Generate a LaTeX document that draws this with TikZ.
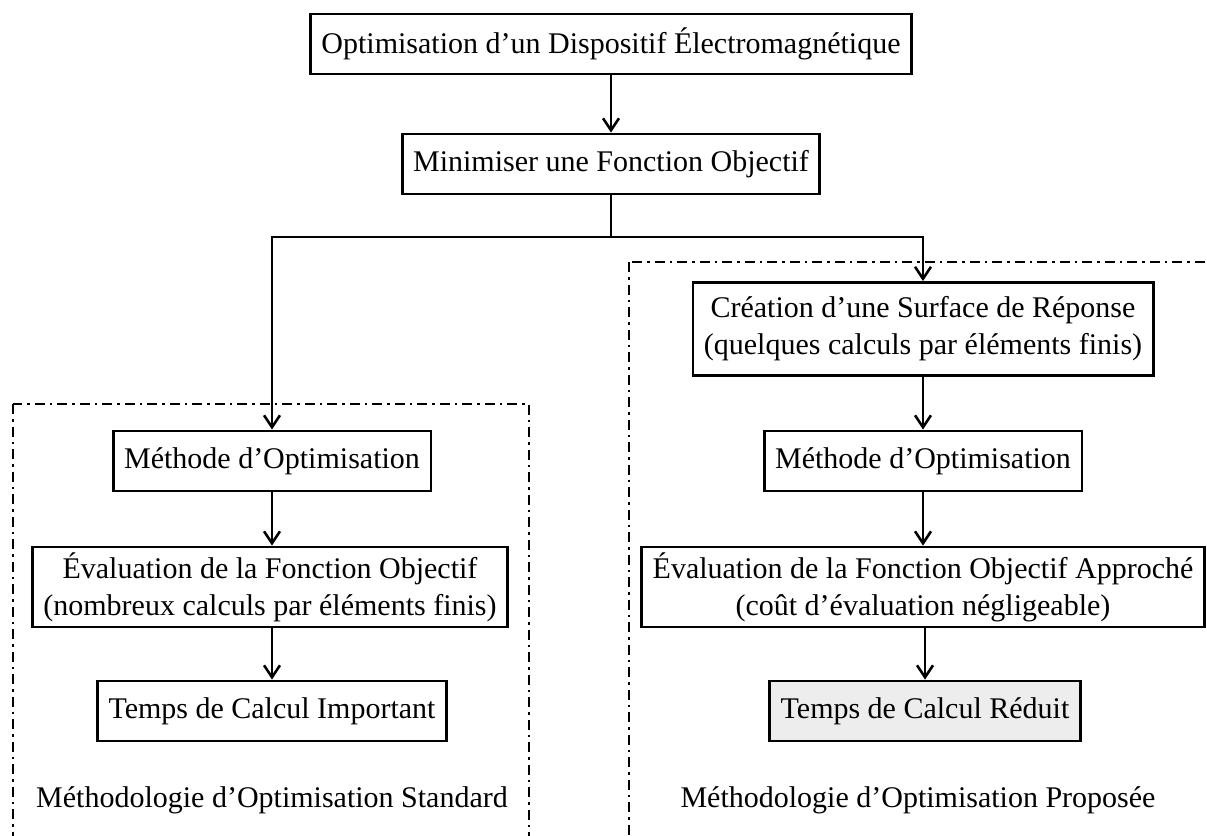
\documentclass[tikz,border=0pt]{standalone}
\usepackage{fontspec}
\setmainfont{Liberation Serif}
\usetikzlibrary{arrows.meta}

\tikzset{
  stepbox/.style={draw, line width=2.8pt, inner xsep=11pt, inner ysep=0pt,
    minimum height=60pt, align=center, font=\fontsize{30}{37}\selectfont},
  tallbox/.style={stepbox, minimum height=80pt},
  groupframe/.style={line width=2pt, dash pattern=on 10pt off 5pt on 2.5pt off 5pt},
  flow/.style={line width=2.6pt, -{Straight Barb[length=12pt,width=16pt,line width=2.6pt]}},
  grouplabel/.style={font=\fontsize{30}{37}\selectfont},
}

\begin{document}
\begin{tikzpicture}[x=1pt, y=-1pt]
  \useasboundingbox (0,0) rectangle (1207,835);
  \clip (0,0) rectangle (1207,835);

  % frames around the two methodologies
  \draw[groupframe] (13,404) rectangle (529,860);
  \draw[groupframe] (629,262) rectangle (1230,860);

  % common part
  \node[stepbox] (dev) at (611,44) {Optimisation d’un Dispositif Électromagnétique};
  \node[stepbox] (obj) at (611,164) {Minimiser une Fonction Objectif};
  \coordinate (split) at (611,237);

  % standard methodology
  \node[stepbox] (lmeth) at (272,461) {Méthode d’Optimisation};
  \node[tallbox] (leval) at (270,587) {Évaluation de la Fonction Objectif\\(nombreux calculs par éléments finis)};
  \node[stepbox] (ltime) at (272,711) {Temps de Calcul Important};
  \node[grouplabel] (lname) at (272,800) {Méthodologie d’Optimisation Standard};

  % proposed methodology
  \node[stepbox, minimum height=93pt] (rsurf) at (923,329) {Création d’une Surface de Réponse\\(quelques calculs par éléments finis)};
  \node[stepbox] (rmeth) at (923,461) {Méthode d’Optimisation};
  \node[tallbox] (reval) at (923,587) {Évaluation de la Fonction Objectif Approché\\(coût d’évaluation négligeable)};
  \node[stepbox, fill=gray!14] (rtime) at (925,711) {Temps de Calcul Réduit};
  \node[grouplabel] (rname) at (918,800) {Méthodologie d’Optimisation Proposée};

  % connectors
  \draw[flow] (dev.south) -- (obj.north);
  \draw[line width=2.6pt] (obj.south) -- (split);
  \draw[flow] (split) -| (lmeth.north);
  \draw[flow] (split) -| (rsurf.north);
  \draw[flow] (lmeth.south) -- (lmeth.south |- leval.north);
  \draw[flow] (leval.south -| ltime.north) -- (ltime.north);
  \draw[flow] (rsurf.south) -- (rmeth.north);
  \draw[flow] (rmeth.south) -- (reval.north);
  \draw[flow] (reval.south -| rtime.north) -- (rtime.north);
\end{tikzpicture}
\end{document}
